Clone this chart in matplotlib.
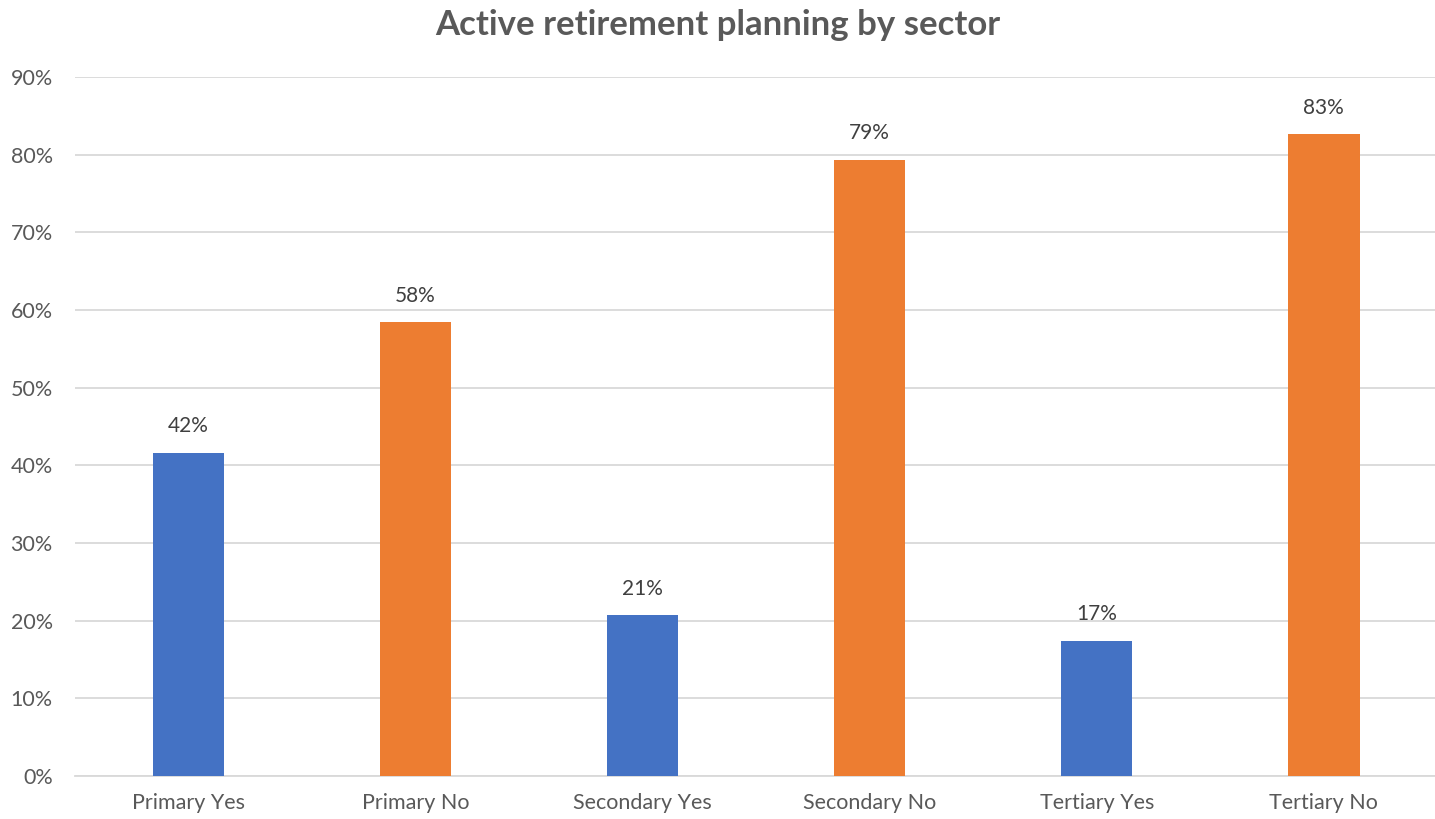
import matplotlib.pyplot as plt
from matplotlib.ticker import PercentFormatter

categories = ["Primary Yes", "Primary No", "Secondary Yes", "Secondary No",
              "Tertiary Yes", "Tertiary No"]
shares = [41.6, 58.4, 20.7, 79.3, 17.4, 82.6]
bar_colors = ["#4472C4", "#ED7D31", "#4472C4", "#ED7D31", "#4472C4", "#ED7D31"]

plt.rcParams['font.family'] = ['Lato', 'DejaVu Sans']
text_grey = "#595959"

fig = plt.figure(figsize=(14.35, 8.19), dpi=100)
ax = fig.add_axes([75 / 1435, 1 - 776 / 819, 1360 / 1435, 699 / 819])

x = range(len(categories))
bars = ax.bar(x, shares, width=0.315, color=bar_colors, zorder=3)

for rect, v in zip(bars, shares):
    ax.annotate(f"{v:.0f}%", (rect.get_x() + rect.get_width() / 2, v),
                xytext=(0, 12), textcoords="offset points",
                ha="center", va="bottom", fontsize=15, color="#404040")

ax.set_ylim(0, 90)
ax.set_xlim(-0.5, 5.49)
ax.set_yticks(range(0, 91, 10))
ax.yaxis.set_major_formatter(PercentFormatter(decimals=0))
ax.set_xticks(list(x))
ax.set_xticklabels(categories)
ax.grid(axis="y", color="#D9D9D9", linewidth=1.3, zorder=0)
for side in ["top", "right", "left"]:
    ax.spines[side].set_visible(False)
ax.spines["bottom"].set_color("#D9D9D9")
ax.spines["bottom"].set_linewidth(1.3)
ax.tick_params(axis="both", length=0, labelsize=15.5, labelcolor=text_grey)
ax.tick_params(axis="y", pad=16)
ax.tick_params(axis="x", pad=12)

fig.text(0.5, 1 - 25 / 819, "Active retirement planning by sector",
         ha="center", va="center", fontsize=25, fontweight="bold", color=text_grey)

fig.savefig("out.png", dpi=100)
